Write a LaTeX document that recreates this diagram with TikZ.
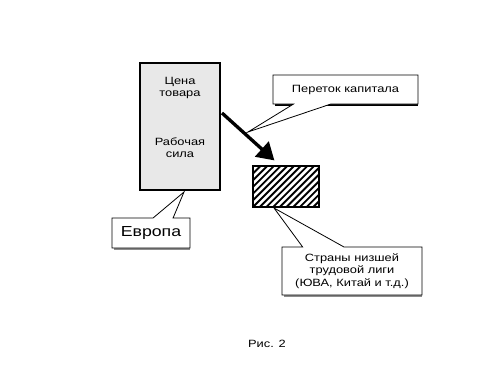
\documentclass[tikz,border=0pt]{standalone}
\usepackage{fontspec}
\setmainfont{Liberation Sans}[FakeStretch=1.22]
\usetikzlibrary{shapes.callouts, arrows.meta, backgrounds, calc}

\begin{document}
\begin{tikzpicture}[x=0.75pt, y=-0.75pt,
  txt/.style={font=\fontsize{7.9}{9.2}\selectfont, align=center},
  note/.style={rectangle callout, draw=black, line width=0.6pt, fill=white, inner sep=0pt, txt},
  shade/.style={fill=black!45}]
\useasboundingbox (0,0) rectangle (500,375);

% Europe
\node[draw, line width=1.5pt, fill=black!9, minimum width=60pt, minimum height=95.25pt, inner sep=0pt] (europe) at (180,126.5) {};
\node[txt] (price) at (180,88) {Цена\\товара};
\node[txt] (labour) at (180,148) {Рабочая\\сила};

% Low-wage countries
\node[draw, line width=0.9pt, minimum width=49.5pt, minimum height=30.75pt, inner sep=0pt,
  path picture={
    \foreach \i in {-7,...,10}
      \draw[line width=1.4pt] ($(path picture bounding box.south west)+(\i*6.7,0)$) -- ++(45,-45);
  }] (asia) at (286,186.5) {};

% Capital flow
\draw[line width=2.5pt, -{Triangle[length=12.75pt, width=15pt]}] ($(europe.north east)+(1,51)$) -- ($(asia.north west)+(22,-5)$);

% Callouts
\coordinate (flowtip) at (248,132);
\coordinate (eutip) at (184,192);
\coordinate (asiatip) at (274,208);
\node[note, minimum width=108.75pt, minimum height=21.75pt, callout pointer width=28pt,
  callout absolute pointer={(flowtip)}] (flow) at (345.5,89.5) {Переток капитала};
\node[note, font=\fontsize{10.9}{12}\selectfont, minimum width=58.5pt, minimum height=22.5pt,
  callout pointer width=15pt, callout absolute pointer={(eutip)}] (eu) at (151,233) {Европа};
\node[note, minimum width=105pt, minimum height=36pt, callout pointer width=31pt,
  callout absolute pointer={(asiatip)}] (lowwage) at (352,271) {Страны низшей\\трудовой лиги\\(ЮВА, Китай и т.д.)};

% Shadows
\begin{scope}[on background layer]
\fill[black] ($(flow.north east)+(0,2)$) rectangle ($(flow.south west)+(2,2)$);
\fill[shade] ($(eu.north east)+(0,2)$) rectangle ($(eu.south west)+(2,2)$);
\fill[shade] ($(lowwage.north east)+(0,2)$) rectangle ($(lowwage.south west)+(2,2)$);
\end{scope}

\node[txt] (caption) at (267,344) {Рис. 2};
\end{tikzpicture}
\end{document}
